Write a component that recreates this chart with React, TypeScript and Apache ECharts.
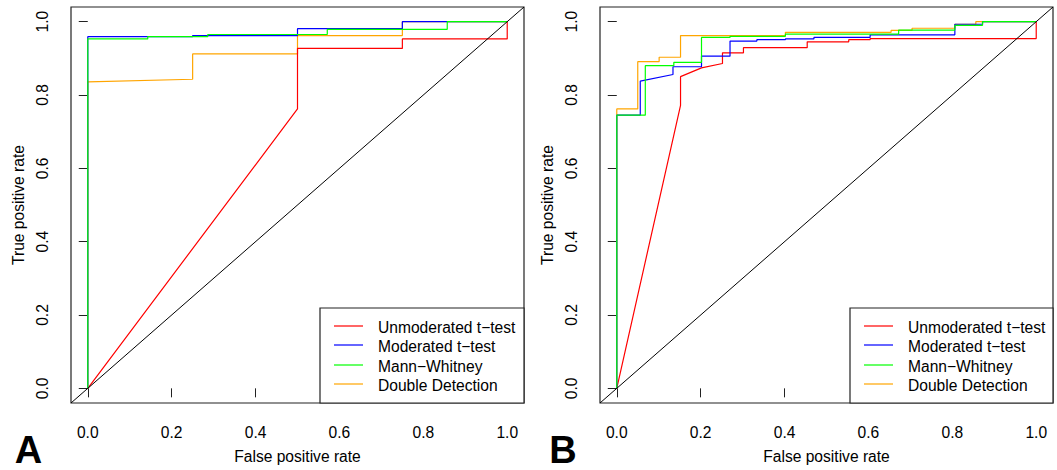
import React, { useEffect, useRef } from "react";
import * as echarts from "echarts";

// ---- data (false positive rate, true positive rate) ----
const TICKS = [0, 0.2, 0.4, 0.6, 0.8, 1.0];
const LEGEND_NAMES = ["Unmoderated t−test", "Moderated t−test", "Mann−Whitney", "Double Detection"];
const X_TITLE = "False positive rate";
const Y_TITLE = "True positive rate";
const PANEL_LABELS = ["A", "B"];

// Panel A
const A_UNMOD: [number, number][] = [
  [0, 0], [0.5, 0.762], [0.5, 0.927], [0.75, 0.927], [0.75, 0.953], [1, 0.953], [1, 1],
];
const A_MOD: [number, number][] = [
  [0, 0], [0, 0.959], [0.25, 0.959], [0.25, 0.962], [0.5, 0.962], [0.5, 0.981],
  [0.75, 0.981], [0.75, 1], [1, 1],
];
const A_MW: [number, number][] = [
  [0, 0], [0, 0.953], [0.143, 0.953], [0.143, 0.959], [0.286, 0.959], [0.286, 0.965],
  [0.571, 0.965], [0.571, 0.979], [0.857, 0.979], [0.857, 1], [1, 1],
];
const A_DD: [number, number][] = [
  [0, 0], [0, 0.836], [0.25, 0.843], [0.25, 0.912], [0.5, 0.912], [0.5, 0.962],
  [0.75, 0.962], [0.75, 1], [1, 1],
];

// Panel B
const B_UNMOD: [number, number][] = [
  [0, 0], [0.152, 0.772], [0.152, 0.85], [0.202, 0.874], [0.252, 0.886], [0.252, 0.915],
  [0.302, 0.915], [0.302, 0.929], [0.454, 0.929], [0.454, 0.945], [0.553, 0.945],
  [0.553, 0.951], [0.604, 0.951], [0.604, 0.954], [1, 0.954], [1, 1],
];
const B_MOD: [number, number][] = [
  [0, 0], [0, 0.745], [0.056, 0.745], [0.056, 0.838], [0.134, 0.856], [0.134, 0.877],
  [0.202, 0.877], [0.202, 0.906], [0.27, 0.906], [0.27, 0.947], [0.334, 0.947],
  [0.334, 0.951], [0.402, 0.951], [0.402, 0.953], [0.47, 0.953], [0.47, 0.957],
  [0.604, 0.957], [0.604, 0.964], [0.806, 0.964], [0.806, 0.993], [0.872, 0.993],
  [0.872, 1], [1, 1],
];
const B_MW: [number, number][] = [
  [0, 0], [0, 0.745], [0.068, 0.745], [0.068, 0.88], [0.136, 0.88], [0.136, 0.889],
  [0.202, 0.889], [0.202, 0.957], [0.27, 0.957], [0.27, 0.96], [0.402, 0.96],
  [0.402, 0.966], [0.672, 0.966], [0.672, 0.977], [0.806, 0.977], [0.806, 0.99],
  [0.872, 0.99], [0.872, 1], [1, 1],
];
const B_DD: [number, number][] = [
  [0, 0], [0, 0.762], [0.05, 0.762], [0.05, 0.891], [0.101, 0.891], [0.101, 0.903],
  [0.152, 0.903], [0.152, 0.962], [0.402, 0.962], [0.402, 0.971], [0.654, 0.971],
  [0.654, 0.976], [0.704, 0.976], [0.704, 0.982], [0.806, 0.982], [0.806, 0.993],
  [0.856, 0.993], [0.856, 1], [1, 1],
];
const DIAGONAL: [number, number][] = [[-0.04, -0.04], [1.04, 1.04]];

// ---- styles ----
const COLORS = ["#FF0000", "#0000FF", "#00FF00", "#FFA500"];
const FONT = "'Liberation Sans', Arial, Helvetica, sans-serif";
const FS = 15.6;
const LW = 1.2;

const GRIDS = [
  { left: 71, top: 7, width: 453, height: 396 },
  { left: 600, top: 7, width: 453, height: 396 },
];
const LEGEND_BOX = [
  { left: 320, right: 524 },
  { left: 850, right: 1053 },
];
const LEGEND_TOP = 308;
const LEGEND_BOTTOM = 403;
const LEGEND_ROWS = [326, 345, 365, 384];
const LABEL_POS = [
  { x: 28.4, y: 450 },
  { x: 563, y: 450 },
];

export default function App() {
  const ref = useRef<HTMLDivElement>(null);

  useEffect(() => {
    if (!ref.current) return;
    const chart = echarts.init(ref.current, null, { renderer: "svg" });

    const panels = [
      [A_UNMOD, A_MOD, A_MW, A_DD],
      [B_UNMOD, B_MOD, B_MW, B_DD],
    ];

    const axisCommon = {
      type: "value" as const,
      min: -0.04,
      max: 1.04,
      axisLine: { show: false },
      splitLine: { show: false },
      axisTick: {
        show: true,
        length: 9,
        customValues: TICKS,
        lineStyle: { color: "#222", width: 1 },
      },
      axisLabel: {
        customValues: TICKS,
        formatter: (v: number) => v.toFixed(1),
        color: "#000",
        fontSize: FS,
        fontFamily: FONT,
        margin: 21,
      },
      nameLocation: "middle" as const,
      nameGap: 45,
      nameTextStyle: { color: "#000", fontSize: FS, fontFamily: FONT },
    };

    const xAxis = GRIDS.map((_, i) => ({
      ...axisCommon,
      gridIndex: i,
      name: X_TITLE,
    }));
    const yAxis = GRIDS.map((_, i) => ({
      ...axisCommon,
      gridIndex: i,
      name: Y_TITLE,
      nameRotate: 90,
      axisLabel: { ...axisCommon.axisLabel, rotate: 90 },
    }));

    const drawOrder = [3, 0, 1, 2]; // orange first, green on top
    const series: any[] = [];
    panels.forEach((curves, p) => {
      drawOrder.forEach((k) => {
        series.push({
          type: "line",
          name: LEGEND_NAMES[k],
          xAxisIndex: p,
          yAxisIndex: p,
          data: curves[k],
          showSymbol: false,
          symbol: "none",
          silent: true,
          clip: true,
          lineStyle: { color: COLORS[k], width: LW },
        });
      });
      series.push({
        type: "line",
        xAxisIndex: p,
        yAxisIndex: p,
        data: DIAGONAL,
        showSymbol: false,
        symbol: "none",
        silent: true,
        clip: true,
        lineStyle: { color: "#000", width: 1 },
      });
    });

    const graphic: any[] = [];
    LEGEND_BOX.forEach((b, p) => {
      graphic.push({
        type: "rect",
        shape: { x: b.left, y: LEGEND_TOP, width: b.right - b.left, height: LEGEND_BOTTOM - LEGEND_TOP },
        style: { fill: "#fff", stroke: "#222", lineWidth: 1.2 },
        z: 10,
      });
      LEGEND_NAMES.forEach((name, k) => {
        graphic.push({
          type: "line",
          shape: { x1: b.left + 14, y1: LEGEND_ROWS[k], x2: b.left + 43, y2: LEGEND_ROWS[k] },
          style: { stroke: COLORS[k], lineWidth: LW },
          z: 11,
        });
        graphic.push({
          type: "text",
          x: b.left + 58,
          y: LEGEND_ROWS[k] + 1,
          style: {
            text: name,
            fill: "#000",
            fontSize: FS,
            fontFamily: FONT,
            align: "left",
            verticalAlign: "middle",
          },
          z: 11,
        });
      });
      graphic.push({
        type: "text",
        x: LABEL_POS[p].x,
        y: LABEL_POS[p].y,
        style: {
          text: PANEL_LABELS[p],
          fill: "#000",
          fontSize: 38,
          lineHeight: 30,
          fontWeight: "bold",
          fontFamily: FONT,
          align: "center",
          verticalAlign: "middle",
        },
        z: 11,
      });
    });

    chart.setOption({
      animation: false,
      backgroundColor: "#fff",
      grid: GRIDS.map((g) => ({
        ...g,
        show: true,
        borderColor: "#222",
        borderWidth: 1.2,
        backgroundColor: "transparent",
        containLabel: false,
      })),
      xAxis,
      yAxis,
      series,
      graphic,
    });

    return () => chart.dispose();
  }, []);

  return (
    <div
      ref={ref}
      style={{ position: "fixed", left: 0, top: 0, width: 1057, height: 470 }}
    />
  );
}
